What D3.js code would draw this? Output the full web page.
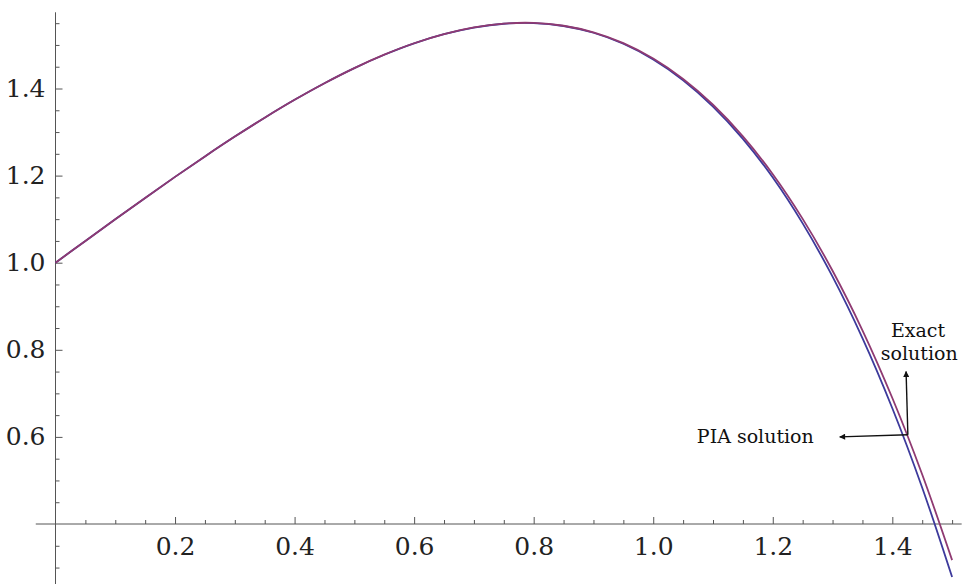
<!DOCTYPE html>
<html>
<head>
<meta charset="utf-8">
<script src="https://cdn.jsdelivr.net/npm/d3@7"></script>
<style>
  html, body { margin: 0; padding: 0; background: #fff; }
  svg { display: block; }
  svg text { font-family: "DejaVu Serif", "Liberation Serif", serif; }
  .axis line, .axis path { stroke: #555; }
  .axis text { fill: #222; font-size: 25px; }
</style>
</head>
<body>
<svg id="chart" width="964" height="584"></svg>
<script>
'use strict';

// sample points along x
var xs = [0, 0.05, 0.1, 0.15, 0.2, 0.25, 0.3, 0.35, 0.4, 0.45, 0.5, 0.55, 0.6, 0.65, 0.7, 0.75,
  0.8, 0.85, 0.9, 0.95, 1.0, 1.05, 1.1, 1.15, 1.2, 1.25, 1.3, 1.35, 1.4, 1.45, 1.5];

// exact solution (purple)
var exactVals = [1.0, 1.050, 1.0997, 1.1488, 1.1971, 1.2441, 1.2896, 1.3330, 1.3741, 1.4122,
  1.4469, 1.4776, 1.5039, 1.5249, 1.5402, 1.5490, 1.5506, 1.5441, 1.5289, 1.5041, 1.4687,
  1.4219, 1.3627, 1.2901, 1.2031, 1.1006, 0.9815, 0.8448, 0.6893, 0.5137, 0.3170];

// PIA solution (blue)
var piaVals = [1.0, 1.050, 1.0997, 1.1488, 1.1971, 1.2441, 1.2896, 1.3330, 1.3740, 1.4121,
  1.4468, 1.4775, 1.5037, 1.5246, 1.5398, 1.5487, 1.5501, 1.5435, 1.5280, 1.5027, 1.4667,
  1.4190, 1.3586, 1.2845, 1.1955, 1.0903, 0.9679, 0.8268, 0.6658, 0.4834, 0.2781];

var xMajor = [0.2, 0.4, 0.6, 0.8, 1.0, 1.2, 1.4];
var xMinor = [0.05, 0.1, 0.15, 0.25, 0.3, 0.35, 0.45, 0.5, 0.55, 0.65, 0.7, 0.75, 0.85, 0.9, 0.95,
  1.05, 1.1, 1.15, 1.25, 1.3, 1.35, 1.45, 1.5];
var yMajor = [0.6, 0.8, 1.0, 1.2, 1.4];
var yMinor = [0.3, 0.35, 0.45, 0.5, 0.55, 0.65, 0.7, 0.75, 0.85, 0.9, 0.95, 1.05, 1.1, 1.15,
  1.25, 1.3, 1.35, 1.45, 1.5, 1.55];

// annotation: label text, anchor point and arrow tips (data units)
var arrowFrom = [1.426, 0.605];
var arrowTips = [[1.312, 0.600], [1.423, 0.750]];
var labelPia = { text: 'PIA solution', x: 1.073, y: 0.586 };
var labelExact = [{ text: 'Exact', x: 1.443, y: 0.830 }, { text: 'solution', x: 1.445, y: 0.777 }];

var svg = d3.select('#chart');

var x = d3.scaleLinear().domain([0, 1.5]).range([55.5, 952.1]);
var y = d3.scaleLinear().domain([0.4, 1.4]).range([524, 88.5]);

svg.append('defs').append('marker')
  .attr('id', 'arrow')
  .attr('viewBox', '0 0 10 10')
  .attr('refX', 9).attr('refY', 5)
  .attr('markerWidth', 9).attr('markerHeight', 6)
  .attr('markerUnits', 'userSpaceOnUse')
  .attr('orient', 'auto')
  .append('path')
  .attr('d', 'M0,0 L10,5 L0,10 Z')
  .attr('fill', '#111');

// x axis
var xAxisG = svg.append('g').attr('class', 'axis').attr('transform', 'translate(0,' + y(0.4) + ')');
xAxisG.append('g').call(d3.axisBottom(x).tickValues(xMinor).tickSize(-4).tickFormat(''))
  .call(function(g) { g.select('.domain').remove(); });
xAxisG.append('g').call(d3.axisBottom(x).tickValues(xMajor).tickSize(-7).tickPadding(13)
  .tickFormat(d3.format('.1f')))
  .call(function(g) { g.select('.domain').remove(); });
xAxisG.append('line')
  .attr('x1', x(-0.033)).attr('x2', x(1.516))
  .attr('stroke', '#555');

// y axis
var yAxisG = svg.append('g').attr('class', 'axis').attr('transform', 'translate(' + x(0) + ',0)');
yAxisG.append('g').call(d3.axisLeft(y).tickValues(yMinor).tickSize(-4).tickFormat(''))
  .call(function(g) { g.select('.domain').remove(); });
yAxisG.append('g').call(d3.axisLeft(y).tickValues(yMajor).tickSize(-7).tickPadding(10)
  .tickFormat(d3.format('.1f')))
  .call(function(g) { g.select('.domain').remove(); });
yAxisG.append('line')
  .attr('y1', y(1.575)).attr('y2', 584)
  .attr('stroke', '#555');

// curves
var line = d3.line()
  .x(function(d) { return x(d[0]); })
  .y(function(d) { return y(d[1]); })
  .curve(d3.curveCatmullRom);

svg.append('path')
  .datum(xs.map(function(v, i) { return [v, piaVals[i]]; }))
  .attr('d', line)
  .attr('fill', 'none')
  .attr('stroke', '#3d3a9c')
  .attr('stroke-width', 1.8);

svg.append('path')
  .datum(xs.map(function(v, i) { return [v, exactVals[i]]; }))
  .attr('d', line)
  .attr('fill', 'none')
  .attr('stroke', '#8f3a72')
  .attr('stroke-width', 1.8);

// annotations
arrowTips.forEach(function(t) {
  svg.append('line')
    .attr('x1', x(arrowFrom[0])).attr('y1', y(arrowFrom[1]))
    .attr('x2', x(t[0])).attr('y2', y(t[1]))
    .attr('stroke', '#111')
    .attr('stroke-width', 1.4)
    .attr('marker-end', 'url(#arrow)');
});

svg.append('text')
  .attr('x', x(labelPia.x)).attr('y', y(labelPia.y))
  .attr('font-size', 19)
  .attr('fill', '#111')
  .text(labelPia.text);

svg.selectAll('text.exact')
  .data(labelExact)
  .enter().append('text')
  .attr('class', 'exact')
  .attr('x', function(d) { return x(d.x); })
  .attr('y', function(d) { return y(d.y); })
  .attr('text-anchor', 'middle')
  .attr('font-size', 19)
  .attr('fill', '#111')
  .text(function(d) { return d.text; });
</script>
</body>
</html>
